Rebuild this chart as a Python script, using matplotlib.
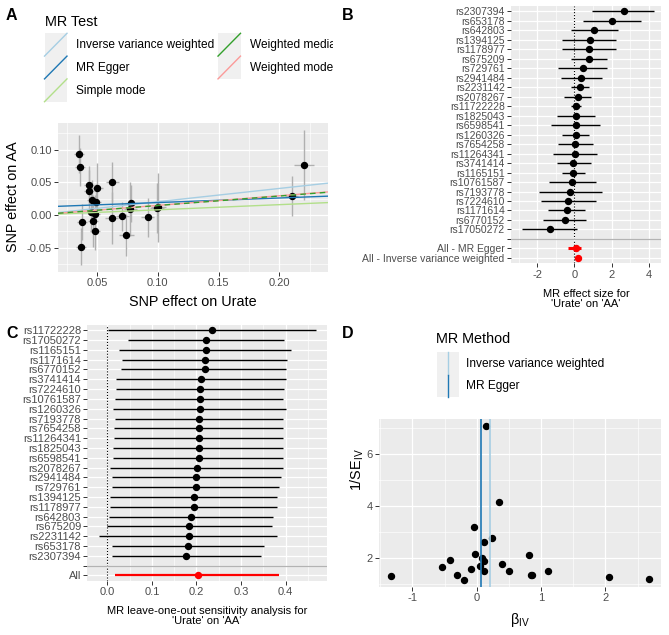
import matplotlib
matplotlib.use("Agg")
import matplotlib.pyplot as plt
from matplotlib.patches import Rectangle
from matplotlib.ticker import MultipleLocator, FormatStrFormatter
import numpy as np

plt.rcParams['font.family'] = ['Liberation Sans', 'DejaVu Sans']
plt.rcParams['mathtext.fontset'] = 'custom'
plt.rcParams['mathtext.rm'] = 'Liberation Sans'
plt.rcParams['mathtext.it'] = 'Liberation Sans:italic'
plt.rcParams['axes.unicode_minus'] = False

## ---- data ----
# A: SNP effects on exposure (Urate) and outcome (AA)
a_bx = [0.0351, 0.0360, 0.0433, 0.0433, 0.0500, 0.0460, 0.0490, 0.0455,
        0.0488, 0.0378, 0.0466, 0.0483, 0.0367, 0.0628, 0.0620, 0.0710,
        0.0743, 0.0781, 0.0776, 0.0916, 0.0993, 0.1004, 0.2100, 0.2203]
a_by = [0.0933, 0.0734, 0.0459, 0.0367, 0.0418, 0.0230, 0.0194, 0.0046,
        0.0020, -0.0107, -0.0087, -0.0245, -0.0484, 0.0505, -0.0050, -0.0020,
        -0.0306, 0.0179, 0.0092, -0.0035, 0.0102, 0.0115, 0.0290, 0.0765]
a_sex = [0.004, 0.004, 0.004, 0.004, 0.005, 0.004, 0.004, 0.004,
         0.004, 0.004, 0.004, 0.004, 0.004, 0.005, 0.005, 0.005,
         0.006, 0.005, 0.005, 0.005, 0.006, 0.006, 0.005, 0.008]
a_sey = [0.029, 0.029, 0.029, 0.032, 0.037, 0.031, 0.028, 0.030,
         0.029, 0.028, 0.040, 0.029, 0.028, 0.030, 0.040, 0.022,
         0.032, 0.028, 0.041, 0.030, 0.038, 0.053, 0.030, 0.053]

methods = ['Inverse variance weighted', 'MR Egger', 'Simple mode',
           'Weighted median', 'Weighted mode']
m_intercept = [0.0, 0.012, 0.0, 0.0, 0.0]
m_slope = [0.203, 0.070, 0.079, 0.145, 0.147]
m_colors = ['#A6CEE3', '#1F78B4', '#B2DF8A', '#33A02C', '#FB9A99']

# B: single SNP forest plot
b_snps = ['rs2307394', 'rs653178', 'rs642803', 'rs1394125', 'rs1178977',
          'rs675209', 'rs729761', 'rs2941484', 'rs2231142', 'rs2078267',
          'rs11722228', 'rs1825043', 'rs6598541', 'rs1260326', 'rs7654258',
          'rs11264341', 'rs3741414', 'rs1165151', 'rs10761587', 'rs7193778',
          'rs7224610', 'rs1171614', 'rs6770152', 'rs17050272']
b_est = [2.66, 2.03, 1.08, 0.86, 0.81, 0.81, 0.49, 0.38, 0.32, 0.22,
         0.11, 0.11, 0.11, 0.09, 0.05, 0.05, -0.05, -0.05, -0.11, -0.22,
         -0.32, -0.41, -0.52, -1.33]
b_lo = [0.97, 0.49, -0.20, -0.65, -0.65, -0.16, -0.86, -0.74, -0.16, -0.54,
        -0.16, -0.95, -1.24, -0.68, -0.90, -1.13, -0.95, -0.68, -1.38, -1.90,
        -1.80, -1.42, -1.71, -2.84]
b_hi = [4.26, 3.59, 2.37, 2.25, 2.25, 1.74, 1.78, 1.47, 0.77, 0.88,
        0.34, 1.10, 1.37, 0.81, 1.02, 1.20, 0.88, 0.57, 1.15, 1.47,
        1.15, 0.57, 0.63, 0.16]
b_sum_lab = ['All - MR Egger', 'All - Inverse variance weighted']
b_sum_est = [0.07, 0.20]
b_sum_lo = [-0.32, 0.02]
b_sum_hi = [0.34, 0.38]

# C: leave-one-out
c_snps = ['rs11722228', 'rs17050272', 'rs1165151', 'rs1171614', 'rs6770152',
          'rs3741414', 'rs7224610', 'rs10761587', 'rs1260326', 'rs7193778',
          'rs7654258', 'rs11264341', 'rs1825043', 'rs6598541', 'rs2078267',
          'rs2941484', 'rs729761', 'rs1394125', 'rs1178977', 'rs642803',
          'rs675209', 'rs2231142', 'rs653178', 'rs2307394']
c_est = [0.235, 0.222, 0.222, 0.220, 0.218, 0.211, 0.209, 0.209, 0.209, 0.206,
         0.206, 0.206, 0.206, 0.205, 0.202, 0.200, 0.198, 0.195, 0.195, 0.188,
         0.184, 0.184, 0.182, 0.177]
c_lo = [0.002, 0.047, 0.027, 0.034, 0.031, 0.019, 0.019, 0.017, 0.013, 0.017,
        0.016, 0.016, 0.013, 0.013, 0.006, 0.010, 0.010, 0.007, 0.007, 0.004,
        -0.001, -0.018, 0.011, 0.011]
c_hi = [0.467, 0.397, 0.412, 0.404, 0.401, 0.400, 0.397, 0.395, 0.400, 0.395,
        0.395, 0.395, 0.395, 0.393, 0.393, 0.390, 0.386, 0.380, 0.380, 0.371,
        0.369, 0.381, 0.351, 0.345]
c_all_est = 0.203
c_all_lo = 0.018
c_all_hi = 0.386

# D: funnel plot
d_beta = [-1.33, -0.534, -0.415, -0.311, -0.197, -0.088, -0.047, -0.031,
          0.047, 0.078, 0.109, 0.109, 0.109, 0.14, 0.238, 0.342, 0.399, 0.508,
          0.813, 0.839, 0.865, 1.109, 2.057, 2.674]
d_inv_se = [1.32, 1.67, 1.94, 1.36, 1.18, 1.59, 3.21, 2.17,
            1.71, 2.0, 1.91, 2.61, 1.53, 7.08, 2.77, 4.14, 1.77, 1.53,
            2.13, 1.36, 1.36, 1.53, 1.30, 1.22]
d_methods = ['Inverse variance weighted', 'MR Egger']
d_est = [0.207, 0.073]
d_colors = ['#A6CEE3', '#1F78B4']

## ---- layout helpers (pixel coords, origin top-left) ----
W, H = 669, 635
fig = plt.figure(figsize=(W / 100, H / 100), dpi=100)

def box(l, t, r, b):
    return [l / W, 1 - b / H, (r - l) / W, (b - t) / H]

def ftext(x, y, s, **kw):
    fig.text(x / W, 1 - y / H, s, **kw)

BG = '#EBEBEB'
TXT = '#4D4D4D'

def gg(ax, labelsize=8):
    ax.set_facecolor(BG)
    for s in ax.spines.values():
        s.set_visible(False)
    ax.set_axisbelow(True)
    ax.grid(True, which='major', color='white', lw=0.9)
    ax.grid(True, which='minor', color='white', lw=0.45)
    ax.tick_params(which='major', length=3, width=0.7, color='#333333',
                   labelcolor=TXT, labelsize=labelsize, pad=1.5)
    ax.tick_params(which='minor', length=0)

## ---- A: scatter ----
axA = fig.add_axes(box(58, 123, 328, 272))
gg(axA)
axA.errorbar(a_bx, a_by, yerr=a_sey, fmt='none', ecolor='#B0B0B0', elinewidth=1.0)
axA.errorbar(a_bx, a_by, xerr=a_sex, fmt='none', ecolor='#B0B0B0', elinewidth=1.0)
axA.plot(a_bx, a_by, 'o', color='black', ms=4.3, zorder=3)
order = [0, 1, 2, 4, 3]
for i in order:
    ls = (0, (4, 3)) if methods[i] == 'Weighted median' else '-'
    axA.axline((0, m_intercept[i]), slope=m_slope[i], color=m_colors[i],
               lw=1.0, ls=ls, zorder=4)
axA.set_xlim(0.018, 0.240)
axA.set_ylim(-0.0872, 0.1407)
axA.set_xticks([0.05, 0.10, 0.15, 0.20])
axA.set_yticks([-0.05, 0.0, 0.05, 0.10])
axA.xaxis.set_minor_locator(MultipleLocator(0.025))
axA.yaxis.set_minor_locator(MultipleLocator(0.025))
axA.xaxis.set_major_formatter(FormatStrFormatter('%.2f'))
axA.yaxis.set_major_formatter(FormatStrFormatter('%.2f'))
ftext(193, 302, 'SNP effect on Urate', fontsize=10.4, ha='center', va='center')
ftext(13, 197, 'SNP effect on AA', fontsize=10.4, ha='center', va='center', rotation=90)

# A legend
lax = fig.add_axes(box(0, 0, 333, 112))
lax.set_xlim(0, 333)
lax.set_ylim(112, 0)
lax.axis('off')
lax.text(45, 22, 'MR Test', fontsize=10.4, ha='left', va='center', clip_on=True)
key_w, key_h = 22.5, 22.8
for i, name in enumerate(methods):
    col, row = divmod(i, 3)
    kx = 44.5 + col * 173.5
    ky = 33.3 + row * key_h
    lax.add_patch(Rectangle((kx, ky), key_w, key_h, facecolor='#F0F0F0', edgecolor='none'))
    lax.plot([kx, kx + key_w], [ky + key_h, ky], color=m_colors[i], lw=1.0)
    lax.text(kx + 31.5, ky + key_h / 2 + 0.5, name, fontsize=8.6, ha='left',
             va='center', clip_on=True)

## ---- B: forest ----
axB = fig.add_axes(box(511, 6, 661, 263.3))
gg(axB)
rows_b = b_snps + [''] + b_sum_lab
yb = np.arange(len(b_snps))
ys = np.arange(len(b_snps) + 1, len(rows_b))
axB.axvline(0, ls=':', color='black', lw=0.8)
axB.hlines(yb, b_lo, b_hi, color='black', lw=1.0)
axB.plot(b_est, yb, 'o', color='black', ms=4.3)
axB.hlines(ys, b_sum_lo, b_sum_hi, color='red', lw=2.2)
axB.plot(b_sum_est, ys, 'o', color='red', ms=4.3)
axB.axhline(len(b_snps), color='#B3B3B3', lw=0.9)
axB.set_yticks(range(len(rows_b)), rows_b)
axB.tick_params(axis='y', labelsize=7.5)
axB.set_ylim(len(rows_b) - 1 + 0.57, -0.57)
axB.set_xlim(-3.41, 4.66)
axB.set_xticks([-2, 0, 2, 4])
axB.xaxis.set_minor_locator(MultipleLocator(1))
ftext(586, 299, "MR effect size for\n'Urate' on 'AA'", fontsize=8, ha='center',
      va='center', linespacing=1.05)

## ---- C: leave-one-out ----
axC = fig.add_axes(box(87.3, 325, 326.7, 580.7))
gg(axC)
rows_c = c_snps + ['', 'All']
yc = np.arange(len(c_snps))
axC.axvline(0, ls=':', color='black', lw=0.8)
axC.hlines(yc, c_lo, c_hi, color='black', lw=1.0)
axC.plot(c_est, yc, 'o', color='black', ms=4.3)
axC.hlines([len(rows_c) - 1], [c_all_lo], [c_all_hi], color='red', lw=1.6)
axC.plot([c_all_est], [len(rows_c) - 1], 'o', color='red', ms=4.3)
axC.axhline(len(c_snps), color='#B3B3B3', lw=0.9)
axC.set_yticks(range(len(rows_c)), rows_c)
axC.tick_params(axis='y', labelsize=8)
axC.set_ylim(len(rows_c) - 1 + 0.53, -0.53)
axC.set_xlim(-0.0448, 0.492)
axC.set_xticks([0.0, 0.1, 0.2, 0.3, 0.4])
axC.xaxis.set_minor_locator(MultipleLocator(0.05))
axC.xaxis.set_major_formatter(FormatStrFormatter('%.1f'))
ftext(207, 616, "MR leave-one-out sensitivity analysis for\n'Urate' on 'AA'",
      fontsize=8, ha='center', va='center', linespacing=1.05)

## ---- D: funnel ----
axD = fig.add_axes(box(379, 419, 660.7, 586.7))
gg(axD)
axD.plot(d_beta, d_inv_se, 'o', color='black', ms=4.3, zorder=3)
for est, colr in zip(d_est, d_colors):
    axD.axvline(est, color=colr, lw=1.2, zorder=4)
axD.set_xlim(-1.518, 2.86)
axD.set_ylim(0.913, 7.34)
axD.set_xticks([-1, 0, 1, 2])
axD.set_yticks([2, 4, 6])
axD.xaxis.set_minor_locator(MultipleLocator(0.5))
axD.yaxis.set_minor_locator(MultipleLocator(1))
ftext(520, 620, r'$\mathrm{β}_{\mathrm{IV}}$', fontsize=10.4, ha='center', va='center')
ftext(357, 470, r'$1/\mathrm{SE}_{\mathrm{IV}}$', fontsize=10.4, ha='center',
      va='center', rotation=90)

# D legend
dlax = fig.add_axes(box(340, 325, 669, 410))
dlax.set_xlim(340, 669)
dlax.set_ylim(410, 325)
dlax.axis('off')
dlax.text(436.5, 339, 'MR Method', fontsize=10.4, ha='left', va='center')
for i, name in enumerate(d_methods):
    ky = 351.7 + i * 22.8
    dlax.add_patch(Rectangle((436.7, ky), 22.5, 22.8, facecolor='#F0F0F0', edgecolor='none'))
    dlax.plot([448.2, 448.2], [ky, ky + 22.8], color=d_colors[i], lw=1.0)
    dlax.text(466, ky + 12, name, fontsize=8.6, ha='left', va='center')

## ---- panel letters ----
for lab, (x, y) in zip('ABCD', [(11, 15), (348, 15), (12, 333), (348, 334)]):
    ftext(x, y, lab, fontsize=11.5, fontweight='bold', ha='center', va='center')

fig.savefig('out.png', dpi=100)
